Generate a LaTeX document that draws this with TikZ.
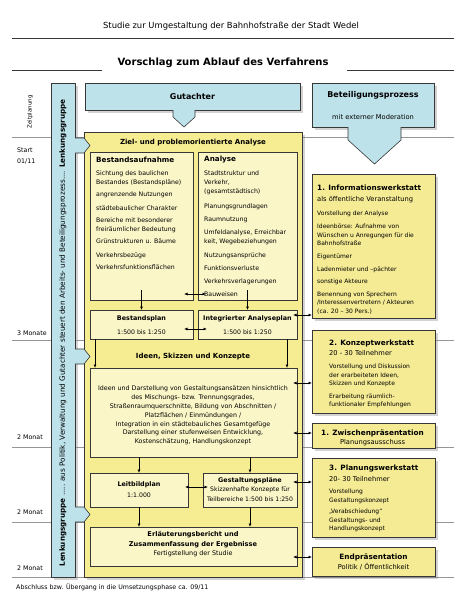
\documentclass[tikz,border=0pt]{standalone}
\usepackage{fontspec}
\usepackage{graphicx}
\setmainfont{DejaVu Sans}
\usetikzlibrary{arrows.meta,shadows,calc}
\definecolor{lblue}{RGB}{189,226,234}
\definecolor{ybig}{RGB}{246,236,146}
\definecolor{ypale}{RGB}{251,246,200}
\definecolor{yright}{RGB}{245,235,148}
\definecolor{gline}{RGB}{150,150,150}
\definecolor{bord}{RGB}{55,55,55}
\newcommand{\fsz}[2]{\fontsize{#1pt}{#2pt}\selectfont}
\newcommand{\mkbox}[6]{\node[#1,anchor=north west,minimum width={(#4)-(#2)},minimum height={(#5)-(#3)}] (#6) at (#2,#3) {};}
\begin{document}
\begin{tikzpicture}[x=1pt,y=-1pt,
  shd/.style={drop shadow={shadow xshift=2.5pt,shadow yshift=-2.5pt,opacity=0.35}},
  base/.style={draw=bord,line width=0.8pt,inner sep=0pt,outer sep=0pt},
  bluebox/.style={base,fill=lblue,shd},
  bigbox/.style={base,fill=ybig,shd},
  pbox/.style={base,line width=0.6pt,fill=ypale},
  rbox/.style={base,fill=yright,shd},
  hd/.style={font=\bfseries\fsz{7}{8},inner sep=0pt},
  sh/.style={font=\bfseries\fsz{6.4}{8},inner sep=0pt},
  rg/.style={font=\fsz{6.7}{8},inner sep=0pt},
  sm/.style={font=\fsz{6.2}{9},inner sep=0pt,align=left,anchor=north west},
  lab/.style={font=\fsz{6.3}{8},inner sep=0pt,anchor=west},
  arr/.style={-{Latex[length=3.5pt,width=3pt]},line width=0.8pt},
  darr/.style={{Latex[length=3.5pt,width=3pt]}-{Latex[length=3.5pt,width=3pt]},line width=0.8pt},
  tl/.style={gline,line width=0.6pt},
  ptr/.style={fill=lblue}
]
\useasboundingbox (0,0) rectangle (466,600);
% title
\node[font=\fsz{8.4}{10}] (ti) at (231,26) {Studie zur Umgestaltung der Bahnhofstraße der Stadt Wedel};
\draw[bord,line width=1pt] (12,38) -- (454,38);
\node[font=\bfseries\fsz{10}{12}] (st) at (223,63) {Vorschlag zum Ablauf des Verfahrens};
\draw[bord,line width=0.8pt] (12,70) -- (102,70);
\draw[bord,line width=0.8pt] (347,70) -- (454,70);
% time lines
\foreach \yy in {137,340,447,522,577} \draw[tl] (12,\yy) -- (454,\yy);
% left labels
\node[font=\fsz{5.5}{7},rotate=90,inner sep=0pt] (zp0) at (30,112) {Zeitplanung};
\node[lab] (l1) at (17,150) {Start};
\node[lab] (l2) at (17,161) {01/11};
\node[lab] (l3) at (17,333) {3 Monate};
\node[lab] (l4) at (17,437) {2 Monat};
\node[lab] (l5) at (17,512) {2 Monat};
\node[lab] (l6) at (17,568) {2 Monat};
\node[lab] (l7) at (16,587) {Abschluss bzw. Übergang in die Umsetzungsphase ca. 09/11};
% blue boxes
\mkbox{bluebox}{51}{83}{75}{577}{lg}
\mkbox{bluebox}{85}{83}{300}{110}{gu}
\mkbox{bluebox}{312}{83}{434}{127}{bt}
\node[rotate=90,inner sep=0pt] (lgt) at (63,333) {\resizebox{467pt}{!}{\fsz{7}{8}\textbf{Lenkungsgruppe} ..... aus Politik, Verwaltung und Gutachter steuert den Arbeits- und Beteiligungsprozess.... \textbf{Lenkungsgruppe}}};
\node[font=\bfseries\fsz{8}{10},inner sep=0pt] (gut) at (gu.center) {Gutachter};
\node[font=\bfseries\fsz{8}{10},inner sep=0pt] (btt) at (373,95) {Beteiligungsprozess};
\node[rg] (btm) at (373,117) {mit externer Moderation};
% pointers
\fill[ptr] (173,110) -- (173,117) -- (184,127) -- (195,117) -- (195,110) -- cycle;
\draw[bord,line width=0.6pt] (gu.south -| 173,0) -- (173,117) -- (184,127) -- (195,117) -- (gu.south -| 195,0);
\fill[ptr] (348,127) -- (348,140) -- (374.5,164) -- (401,140) -- (401,127) -- cycle;
\draw[bord,line width=0.6pt] (bt.south -| 348,0) -- (348,140) -- (374.5,164) -- (401,140) -- (bt.south -| 401,0);
% main box
\mkbox{bigbox}{84}{132}{302}{577}{mb}
\node[hd] (zh) at (193,143) {Ziel- und problemorientierte Analyse};
\mkbox{pbox}{90}{152}{193}{300}{ba}
\mkbox{pbox}{198}{152}{297}{300}{an}
\node[font=\bfseries\fsz{7.2}{8},inner sep=0pt,anchor=west] (bah) at (96,160) {Bestandsaufnahme};
\node[font=\bfseries\fsz{7.2}{8},inner sep=0pt,anchor=west] (anh) at (204,160) {Analyse};
\node[sm] (bat) at (96,171) {Sichtung des baulichen\\Bestandes (Bestandspläne)\\[3pt]angrenzende Nutzungen\\[5pt]städtebaulicher Charakter\\[3pt]Bereiche mit besonderer\\freiräumlicher Bedeutung\\[3pt]Grünstrukturen u. Bäume\\[5pt]Verkehrsbezüge\\[3pt]Verkehrsfunktionsflächen};
\node[sm] (ant) at (204,171) {Stadtstruktur und\\Verkehr,\\(gesamtstädtisch)\\[6pt]Planungsgrundlagen\\[4pt]Raumnutzung\\[4pt]Umfeldanalyse, Erreichbar\\keit, Wegebeziehungen\\[5pt]Nutzungsansprüche\\[4pt]Funktionsverluste\\[4pt]Verkehrsverlagerungen\\[4pt]Bauweisen};
\mkbox{pbox}{90}{310}{193}{339}{bpl}
\mkbox{pbox}{198}{310}{297}{339}{ap}
\node[sh] (bph) at (141.5,319) {Bestandsplan};
\node[font=\fsz{6.2}{8},inner sep=0pt] (bpm) at (141.5,332) {1:500 bis 1:250};
\node[sh] (aph) at (247.5,319) {Integrierter Analyseplan};
\node[font=\fsz{6.2}{8},inner sep=0pt] (apm) at (247.5,332) {1:500 bis 1:250};
\node[hd] (ih) at (193,357) {Ideen, Skizzen und Konzepte};
\mkbox{pbox}{90}{368}{297}{457}{id}
\node[font=\fsz{6.3}{8.8},inner sep=0pt,align=center,anchor=north] (idt) at (193,386) {Ideen und Darstellung von Gestaltungsansätzen hinsichtlich\\des Mischungs- bzw. Trennungsgrades,\\Straßenraumquerschnitte, Bildung von Abschnitten /\\Platzflächen / Einmündungen /\\Integration in ein städtebauliches Gesamtgefüge\\Darstellung einer stufenweisen Entwicklung,\\Kostenschätzung, Handlungskonzept};
\mkbox{pbox}{90}{473}{188}{507}{lb}
\mkbox{pbox}{203}{473}{297}{507}{gp}
\node[sh] (lbh) at (139,485) {Leitbildplan};
\node[font=\fsz{6.2}{8},inner sep=0pt] (lbm) at (139,495) {1:1.000};
\node[sh] (gph) at (250,481) {Gestaltungspläne};
\node[font=\fsz{6.1}{8},inner sep=0pt] (gpm) at (250,490) {Skizzenhafte Konzepte für};
\node[font=\fsz{6.1}{8},inner sep=0pt] (gpn) at (250,499) {Teilbereiche 1:500 bis 1:250};
\mkbox{pbox}{90}{527}{297}{566}{er}
\node[font=\bfseries\fsz{6.6}{8},inner sep=0pt] (erh) at (193,535) {Erläuterungsbericht und};
\node[font=\bfseries\fsz{6.6}{8},inner sep=0pt] (eri) at (193,545) {Zusammenfassung der Ergebnisse};
\node[font=\fsz{6.4}{8},inner sep=0pt] (erm) at (193,554) {Fertigstellung der Studie};
% left pointers
\foreach \yy in {138,349,507}{
  \filldraw[fill=lblue,draw=bord,line width=0.6pt] (75,\yy) -- (84,\yy) -- (90,\yy+7.5) -- (84,\yy+15) -- (75,\yy+15);
}
% right boxes
\mkbox{rbox}{312}{174}{435}{318}{iw}
\mkbox{rbox}{312}{330}{435}{413}{kw}
\mkbox{rbox}{312}{423}{435}{448}{zw}
\mkbox{rbox}{312}{458}{435}{537}{pw}
\mkbox{rbox}{312}{547}{435}{576}{ep}
\node[hd,font=\bfseries\fsz{7.3}{8},anchor=west] (iwh) at (317,188) {1. Informationswerkstatt};
\node[rg,anchor=west] (iwr) at (317,200) {als öffentliche Veranstaltung};
\node[sm,font=\fsz{6}{8.5}] (iwt) at (317,211) {Vorstellung der Analyse\\[4.5pt]Ideenbörse: Aufnahme von\\Wünschen u Anregungen für die\\Bahnhofstraße\\[4.5pt]Eigentümer\\[4pt]Ladenmieter und –pächter\\[4pt]sonstige Akteure\\[4pt]Benennung von Sprechern\\/Interessenvertretern / Akteuren\\(ca. 20 – 30 Pers.)};
\node[hd,font=\bfseries\fsz{7.3}{8},anchor=west] (kwh) at (329,343) {2. Konzeptwerkstatt};
\node[rg,anchor=west] (kwr) at (329,353) {20 - 30 Teilnehmer};
\node[sm,font=\fsz{6}{8.3}] (kwt) at (329,364) {Vorstellung und Diskussion\\der erarbeiteten Ideen,\\Skizzen und Konzepte\\[4.5pt]Erarbeitung räumlich-\\funktionaler Empfehlungen};
\node[hd,font=\bfseries\fsz{7.3}{8}] (zwh) at (372.5,433) {1. Zwischenpräsentation};
\node[rg] (zwr) at (372.5,443) {Planungsausschuss};
\node[hd,font=\bfseries\fsz{7.3}{8},anchor=west] (pwh) at (329,469) {3. Planungswerkstatt};
\node[rg,anchor=west] (pwr) at (329,479) {20- 30 Teilnehmer};
\node[sm,font=\fsz{6}{8.3}] (pwt) at (329,489) {Vorstellung\\Gestaltungskonzept\\[3.5pt]„Verabschiedung“\\Gestaltungs- und\\Handlungskonzept};
\node[hd,font=\bfseries\fsz{7.3}{8}] (eph) at (373.5,557) {Endpräsentation};
\node[rg] (epr) at (373.5,567) {Politik / Öffentlichkeit};
% connectors
\draw[arr] ([yshift=10pt]ba.south) -- (bpl.north);
\draw[arr] ([yshift=10pt]an.south) -- (ap.north);
\draw[darr] ($(ba.south east)+(-9pt,6pt)$) -- ($(an.south west)+(8pt,6pt)$);
\draw[darr] ($(bpl.east)+(-9pt,-4.5pt)$) -- ($(ap.west)+(9pt,-4.5pt)$);
\draw[arr] ([xshift=5pt]bpl.south west) -- ([xshift=5pt]id.north west);
\draw[arr] ([xshift=-10pt]ap.south east) -- ([xshift=-10pt]id.north east);
\draw[arr] (id.south -| lb.north) -- (lb.north);
\draw[arr] (id.south -| gp.north) -- (gp.north);
\draw[arr] (lb.south) -- (lb.south |- er.north);
\draw[arr] (gp.south) -- (gp.south |- er.north);
\draw[darr] ($(lb.east)+(-3pt,3pt)$) -- ($(gp.west)+(5pt,3pt)$);
\draw[darr] ($(ap.east |- iw.south)+(-4pt,3pt)$) -- ($(iw.south west)+(0,3pt)$);
\draw[darr] ($(id.east |- kw.west)+(-4pt,-11.5pt)$) -- ($(kw.west)+(0,-11.5pt)$);
\draw[darr] ($(id.east |- zw.west)+(-4pt,2.5pt)$) -- ($(zw.west)+(0,2.5pt)$);
\draw[darr] ($(gp.east |- pw.west)+(-4pt,15.5pt)$) -- ($(pw.west)+(0,15.5pt)$);
\draw[darr] ($(er.east |- ep.west)+(-4pt,4.5pt)$) -- ($(ep.west)+(0,4.5pt)$);
\end{tikzpicture}
\end{document}
